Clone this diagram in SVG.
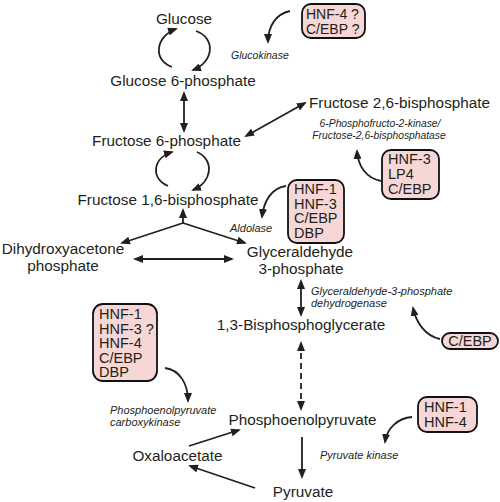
<svg xmlns="http://www.w3.org/2000/svg" width="500" height="502" viewBox="0 0 500 502">
<defs>
<style>
.t{font-family:"Liberation Sans",Arial,sans-serif;font-size:15.3px;fill:#231f20}
.m{text-anchor:middle}
.e{font-family:"Liberation Sans",Arial,sans-serif;font-size:11px;font-style:italic;fill:#231f20}
.b{font-family:"Liberation Sans",Arial,sans-serif;font-size:14.5px;fill:#231f20}
.box{fill:#f6d7d5;stroke:#111;stroke-width:1.8}
.c{fill:none;stroke:#231f20;stroke-width:1.8}
.d{stroke-dasharray:6 4}
.h{marker-end:url(#ah)}
.hh{marker-end:url(#ah);marker-start:url(#ah)}
</style>
<marker id="ah" viewBox="0 0 10 8" refX="8" refY="4" markerWidth="10" markerHeight="8" markerUnits="userSpaceOnUse" orient="auto-start-reverse">
<path d="M0,0 L10,4 L0,8 z" fill="#231f20"/>
</marker>
</defs>
<rect width="500" height="502" fill="#fff"/>

<g id="connectors">
<path class="c h" d="M172,67 C152,60 156,36 176,29"/>
<path class="c h" d="M196,31 C216,38 214,62 193,70"/>
<line class="c hh" x1="184" y1="93" x2="184" y2="131"/>
<path class="c h" d="M168,186 C150,178 153,158 172,152"/>
<path class="c h" d="M197,152 C215,160 212,182 193,190"/>
<line class="c hh" x1="246" y1="136" x2="305" y2="103"/>
<line class="c h" x1="183" y1="223" x2="183" y2="210"/>
<line class="c h" x1="183" y1="223" x2="122" y2="243"/>
<line class="c h" x1="183" y1="223" x2="245" y2="243"/>
<line class="c hh" x1="135" y1="259" x2="232" y2="259"/>
<line class="c hh" x1="301" y1="281" x2="301" y2="315"/>
<line class="c d hh" x1="301" y1="343" x2="301" y2="409"/>
<line class="c h" x1="302" y1="437" x2="302" y2="477"/>
<line class="c h" x1="189" y1="446" x2="239" y2="430"/>
<line class="c h" x1="255" y1="488" x2="190" y2="466"/>
<path class="c h" d="M290,11 C276,14 268,26 268,42"/>
<path class="c h" d="M381,181 C366,178 358,166 357,151"/>
<path class="c h" d="M286,186 C272,188 264,200 262,217"/>
<path class="c h" d="M440,339 C425,336 416,322 413,308"/>
<path class="c h" d="M165,368 C180,370 188,384 188,401"/>
<path class="c h" d="M412,417 C398,418 387,428 385,442"/>
</g>

<g id="glucose"><text class="t m" x="184" y="24">Glucose</text></g>
<g id="glucose6p"><text class="t m" x="183" y="86">Glucose 6-phosphate</text></g>
<g id="fructose6p"><text class="t m" x="166.5" y="146">Fructose 6-phosphate</text></g>
<g id="fructose26bp"><text class="t m" x="399.5" y="108">Fructose 2,6-bisphosphate</text></g>
<g id="fructose16bp"><text class="t m" x="168" y="205">Fructose 1,6-bisphosphate</text></g>
<g id="dhap"><text class="t m" x="63" y="254">Dihydroxyacetone</text><text class="t m" x="63" y="271">phosphate</text></g>
<g id="g3p"><text class="t m" x="300" y="257">Glyceraldehyde</text><text class="t m" x="301" y="274">3-phosphate</text></g>
<g id="bpg"><text class="t m" x="301" y="330">1,3-Bisphosphoglycerate</text></g>
<g id="pep"><text class="t m" x="302.5" y="425">Phosphoenolpyruvate</text></g>
<g id="oxaloacetate"><text class="t m" x="177.5" y="461">Oxaloacetate</text></g>
<g id="pyruvate"><text class="t m" x="303" y="497">Pyruvate</text></g>

<g id="glucokinase"><text class="e" x="231" y="59" style="font-size:10.5px">Glucokinase</text></g>
<g id="pfk2"><text class="e m" x="380" y="127" style="font-size:10.3px">6-Phosphofructo-2-kinase/</text><text class="e m" x="379" y="139" style="font-size:10.3px">Fructose-2,6-bisphosphatase</text></g>
<g id="aldolase"><text class="e" x="230" y="232">Aldolase</text></g>
<g id="gapdh"><text class="e" x="311" y="295">Glyceraldehyde-3-phosphate</text><text class="e" x="311" y="307">dehydrogenase</text></g>
<g id="pepck"><text class="e" x="110" y="414">Phosphoenolpyruvate</text><text class="e" x="110" y="426">carboxykinase</text></g>
<g id="pk"><text class="e" x="320" y="459">Pyruvate kinase</text></g>

<g id="tf-glucokinase"><rect class="box" x="302" y="4" width="63" height="34" rx="9"/><text class="b" x="306" y="19" style="font-size:14px">HNF-4 ?</text><text class="b" x="306" y="34" style="font-size:14px">C/EBP ?</text></g>
<g id="tf-pfk2"><rect class="box" x="382" y="150" width="57" height="49" rx="9"/><text class="b" x="388" y="164">HNF-3</text><text class="b" x="388" y="179">LP4</text><text class="b" x="388" y="194">C/EBP</text></g>
<g id="tf-aldolase"><rect class="box" x="288" y="180" width="56" height="63" rx="9"/><text class="b" x="294" y="194">HNF-1</text><text class="b" x="294" y="208.5">HNF-3</text><text class="b" x="294" y="223">C/EBP</text><text class="b" x="294" y="237.5">DBP</text></g>
<g id="tf-gapdh"><rect class="box" x="442" y="333" width="56" height="16" rx="8"/><text class="b m" x="470" y="346">C/EBP</text></g>
<g id="tf-pepck"><rect class="box" x="93" y="304" width="64" height="77" rx="10"/><text class="b" x="99" y="319">HNF-1</text><text class="b" x="99" y="333.5">HNF-3 ?</text><text class="b" x="99" y="348">HNF-4</text><text class="b" x="99" y="362.5">C/EBP</text><text class="b" x="99" y="377">DBP</text></g>
<g id="tf-pk"><rect class="box" x="418" y="397" width="59" height="35" rx="9"/><text class="b" x="424" y="412">HNF-1</text><text class="b" x="424" y="427">HNF-4</text></g>
</svg>
